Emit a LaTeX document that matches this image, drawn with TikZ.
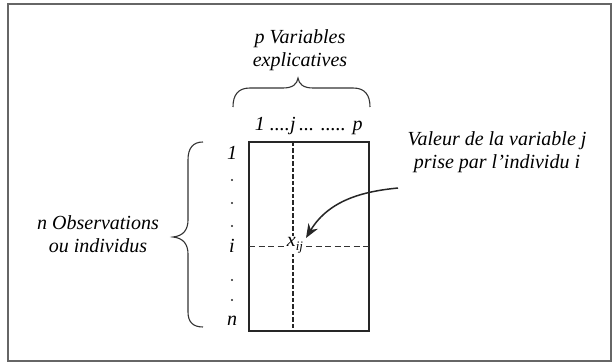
\documentclass[tikz,border=0pt]{standalone}
\usepackage{fontspec}
\setmainfont{Liberation Serif}
\usetikzlibrary{arrows.meta}
\tikzset{
  lbl/.style={inner sep=0pt, font=\fontsize{20}{23}\selectfont\itshape, align=center},
  rowdot/.style={circle, fill=black!85, inner sep=0pt, minimum size=2.4pt},
  frameline/.style={draw=black!60, line width=1.3pt},
  matline/.style={draw=black!85, line width=1.2pt},
  vdash/.style={draw=black!85, line width=1.4pt, dash pattern=on 4.5pt off 2pt},
  hdash/.style={draw=black!80, line width=0.8pt, dash pattern=on 6pt off 3.5pt},
  bracel/.style={draw=black!80, line width=1.1pt},
  pointer/.style={draw=black!85, line width=1.5pt, -{Stealth[length=14pt,width=11pt]}}
}
\begin{document}
\begin{tikzpicture}[x=1pt,y=-1pt]
\useasboundingbox (0,0) rectangle (614,363);
% outer frame
\draw[frameline] (8,4) rectangle (611,361);
% matrix
\node[matline, minimum width=120pt, minimum height=189pt, inner sep=0pt] (mat) at (309,236.5) {};
\coordinate (vtop) at (293,142);
\coordinate (vbot) at (293,331);
\coordinate (hleft) at (249,246);
\coordinate (hright) at (369,246);
\draw[vdash] (vtop) -- (vbot);
\draw[hdash] (hleft) -- (hright);
\node[lbl, fill=white, inner xsep=2pt, inner ysep=1pt] (xij) at (295,245) {x\raisebox{-4pt}{\fontsize{13}{13}\selectfont ij}};
% title
\node[lbl] (title) at (300,50) {p Variables\\explicatives};
% top brace
\draw[bracel] (233,107) .. controls (233,95) and (238,88) .. (250,88) -- (283,88) .. controls (293,88) and (297,84) .. (298,78) .. controls (299,84) and (303,88) .. (313,88) -- (353,88) .. controls (365,88) and (370,95) .. (370,107);
% column labels
\node[lbl, anchor=base east] (c1) at (290,131) {1 ....};
\node[lbl, anchor=base] (cj) at (293,131) {j};
\node[lbl, anchor=base west] (cp) at (299,131) {... ..... p};
% row labels
\node[lbl] (r1) at (232,153) {1};
\node[rowdot] (d1) at (232,180) {};
\node[rowdot] (d2) at (232,203) {};
\node[rowdot] (d3) at (232,226) {};
\node[lbl] (ri) at (232,246) {i};
\node[rowdot] (d4) at (232,280) {};
\node[rowdot] (d5) at (232,300) {};
\node[lbl] (rn) at (232,321) {n};
% left brace
\draw[bracel] (203,142) .. controls (193,142) and (188,148) .. (188,160) -- (188,220) .. controls (188,230) and (183,236) .. (173,237) .. controls (183,238) and (188,244) .. (188,254) -- (188,312) .. controls (188,322) and (193,327) .. (203,327);
% left text
\node[lbl] (obs) at (98,234) {n Observations\\ou individus};
% right text
\node[lbl] (val) at (497,152) {Valeur de la variable j\\prise par l'individu i};
% pointer
\coordinate (a1) at (398,188);
\coordinate (a2) at (306,238);
\draw[pointer] (a1) .. controls (368,191) and (330,198) .. (a2);
\end{tikzpicture}
\end{document}
